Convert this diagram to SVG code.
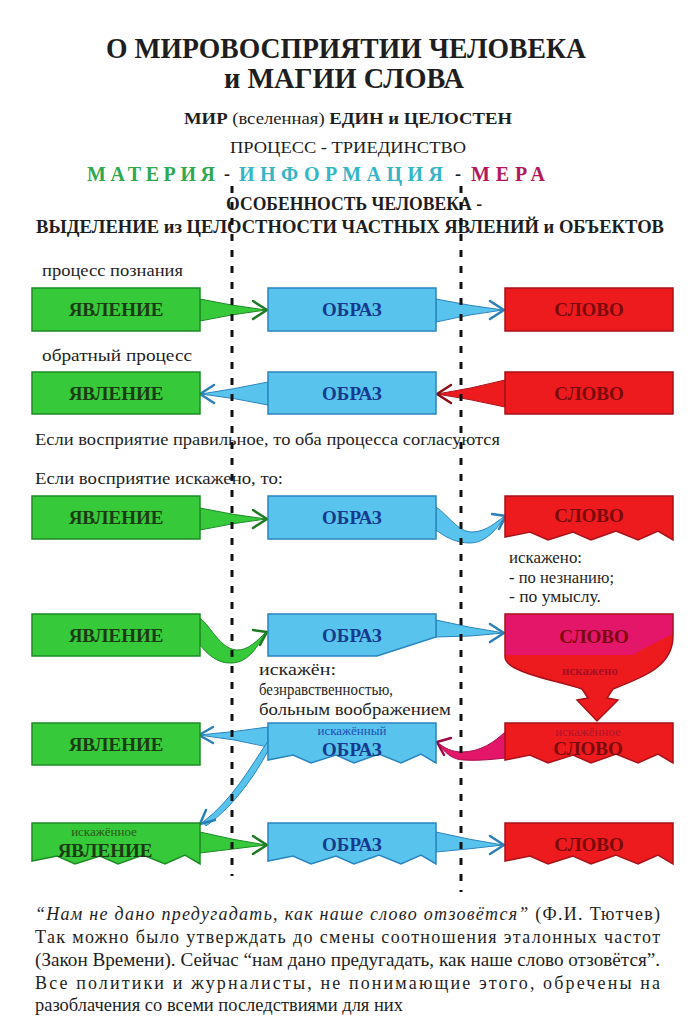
<svg xmlns="http://www.w3.org/2000/svg" width="693" height="1024" viewBox="0 0 693 1024">
<style>
text{font-family:"Liberation Serif","Times New Roman",serif;fill:#1e1e1e}
.t{font-weight:bold;font-size:29px}
.h{font-weight:bold;font-size:18px}
.lb{font-size:17px}
.p{font-size:18px}
.g{fill:#36c93a;stroke:#1e8a26;stroke-width:1.5}
.b{fill:#58c4ee;stroke:#2a84bd;stroke-width:1.5}
.r{fill:#ee1b1e;stroke:#a8121a;stroke-width:1.5}
.m{fill:#e3166a}
.bt{font-weight:bold;font-size:19px;text-anchor:middle}
.gt{fill:#1c3a14}
.blt{fill:#173a8c}
.rt{fill:#7a0a0c}
.st{font-size:13px;text-anchor:middle}
.wg{fill:#36c93a;stroke:#1e8a26;stroke-width:1}
.wb{fill:#58c4ee;stroke:#2a84bd;stroke-width:1}
.wr{fill:#ee1b1e;stroke:#a8121a;stroke-width:1}
.wm{fill:#e3166a;stroke:#a80d4c;stroke-width:1}
.cg{fill:none;stroke:#1e7a22;stroke-width:2.5;stroke-linecap:round;stroke-linejoin:round}
.cb{fill:none;stroke:#2a7fb8;stroke-width:2.5;stroke-linecap:round;stroke-linejoin:round}
.cr{fill:none;stroke:#8e0c14;stroke-width:2.5;stroke-linecap:round;stroke-linejoin:round}
.cm{fill:none;stroke:#9c0a48;stroke-width:2.5;stroke-linecap:round;stroke-linejoin:round}
.dash{stroke:#111;stroke-width:3;stroke-dasharray:7 9;fill:none}
</style>
<rect width="693" height="1024" fill="#ffffff"/>

<g id="header">
<text class="t" x="106" y="58" textLength="480" lengthAdjust="spacingAndGlyphs">О МИРОВОСПРИЯТИИ ЧЕЛОВЕКА</text>
<text class="t" x="224" y="88" textLength="240" lengthAdjust="spacingAndGlyphs">и МАГИИ СЛОВА</text>
<text x="184" y="124" font-size="17" font-weight="bold" textLength="328" lengthAdjust="spacingAndGlyphs">МИР <tspan font-weight="normal">(вселенная)</tspan> ЕДИН и ЦЕЛОСТЕН</text>
<text x="230" y="153" font-size="17" textLength="236" lengthAdjust="spacingAndGlyphs">ПРОЦЕСС - ТРИЕДИНСТВО</text>
<text x="87" y="181" font-size="20" font-weight="bold" textLength="128" style="fill:#2fa84f">МАТЕРИЯ</text>
<text x="224" y="180" font-size="18" font-weight="bold">-</text>
<text x="239" y="181" font-size="20" font-weight="bold" textLength="204" style="fill:#35b5c6">ИНФОРМАЦИЯ</text>
<text x="455" y="180" font-size="18" font-weight="bold">-</text>
<text x="471" y="181" font-size="20" font-weight="bold" textLength="74" style="fill:#b3175d">МЕРА</text>
<text class="h" x="226" y="210" textLength="256" lengthAdjust="spacingAndGlyphs">ОСОБЕННОСТЬ ЧЕЛОВЕКА -</text>
<text class="h" x="36" y="233" textLength="628" lengthAdjust="spacingAndGlyphs">ВЫДЕЛЕНИЕ из ЦЕЛОСТНОСТИ ЧАСТНЫХ ЯВЛЕНИЙ и ОБЪЕКТОВ</text>
</g>

<g id="labels">
<text class="lb" x="42" y="276" textLength="141" lengthAdjust="spacingAndGlyphs">процесс познания</text>
<text class="lb" x="42" y="361" textLength="150" lengthAdjust="spacingAndGlyphs">обратный процесс</text>
<text class="lb" x="35" y="445" textLength="465" lengthAdjust="spacingAndGlyphs">Если восприятие правильное, то оба процесса согласуются</text>
<text class="lb" x="35" y="484" textLength="248" lengthAdjust="spacingAndGlyphs">Если восприятие искажено, то:</text>
<text class="lb" x="509" y="563" textLength="73" lengthAdjust="spacingAndGlyphs">искажено:</text>
<text class="lb" x="509" y="583" textLength="105" lengthAdjust="spacingAndGlyphs">- по незнанию;</text>
<text class="lb" x="509" y="602" textLength="92" lengthAdjust="spacingAndGlyphs">- по умыслу.</text>
<text class="lb" x="259" y="675" textLength="77" lengthAdjust="spacingAndGlyphs">искажён:</text>
<text class="lb" x="259" y="695" textLength="134" lengthAdjust="spacingAndGlyphs">безнравственностью,</text>
<text class="lb" x="259" y="715" textLength="192" lengthAdjust="spacingAndGlyphs">больным воображением</text>
</g>

<g id="connectors">
<path class="wg" d="M200,299 Q233,306 266,310 Q233,314 200,321 Z"/>
<path class="cg" d="M253,301 L267,310 L253,319"/>
<path class="wb" d="M436,299 Q470,306 503,310 Q470,314 436,322 Z"/>
<path class="cb" d="M490,301 L504,310 L490,319"/>
<path class="wb" d="M268,382 Q235,389 201,394 Q235,398 268,405 Z"/>
<path class="cb" d="M214,385 L200,394 L214,403"/>
<path class="wr" d="M505,380 Q470,389 437,394 Q470,399 505,407 Z"/>
<path class="cr" d="M451,385 L437,394 L451,403"/>
<path class="wg" d="M200,508 Q233,515 266,519 Q233,523 200,530 Z"/>
<path class="cg" d="M253,510 L267,519 L253,528"/>
<path class="wb" d="M436,507 C448,515 458,532 472,532 C486,532 496,522 505,516 C498,528 486,543 470,543 C455,543 444,536 436,530 Z"/>
<path class="cb" d="M492,514 L506,516 L499,529"/>
<path class="wg" d="M200,618 C212,628 220,648 236,650 C248,651 258,640 266,632 C258,645 250,662 232,663 C216,664 206,652 200,645 Z"/>
<path class="cg" d="M253,630 L267,632 L260,645"/>
<path class="wb" d="M436,620 Q470,628 504,633 Q470,637 436,637 Z"/>
<path class="cb" d="M490,624 L504,633 L490,642"/>
<path class="wb" d="M268,727 Q235,732 199,735 Q235,739 268,747 Z"/>
<path class="cb" d="M213,727 L199,735 L213,743"/>
<path class="wm" d="M506,731 C495,742 480,752 462,752 C452,752 444,748 437,742 C444,752 452,760 464,760 C480,761 495,759 506,758 Z"/>
<path class="cm" d="M451,738 L437,742 L444,755"/>
<path class="wb" d="M268,741 C250,768 232,800 203,822 L206,826 C235,805 255,775 268,751 Z"/>
<path class="cb" d="M206,810 L200,824 L215,820"/>
<path class="wg" d="M200,832 Q233,840 266,845 Q233,849 200,853 Z"/>
<path class="cg" d="M253,836 L267,845 L253,854"/>
<path class="wb" d="M436,832 Q470,840 503,845 Q470,849 436,852 Z"/>
<path class="cb" d="M490,836 L504,845 L490,854"/>
</g>

<g id="row1">
<g id="r1-yavlenie"><rect class="g" x="32" y="288" width="168" height="43"/><text class="bt gt" x="116" y="316">ЯВЛЕНИЕ</text></g>
<g id="r1-obraz"><rect class="b" x="268" y="288" width="168" height="43"/><text class="bt blt" x="352" y="316">ОБРАЗ</text></g>
<g id="r1-slovo"><rect class="r" x="505" y="288" width="168" height="43"/><text class="bt rt" x="589" y="316">СЛОВО</text></g>
</g>

<g id="row2">
<g id="r2-yavlenie"><rect class="g" x="32" y="372" width="168" height="42"/><text class="bt gt" x="116" y="400">ЯВЛЕНИЕ</text></g>
<g id="r2-obraz"><rect class="b" x="268" y="372" width="168" height="42"/><text class="bt blt" x="352" y="400">ОБРАЗ</text></g>
<g id="r2-slovo"><rect class="r" x="505" y="372" width="168" height="42"/><text class="bt rt" x="589" y="400">СЛОВО</text></g>
</g>

<g id="row3">
<g id="r3-yavlenie"><rect class="g" x="32" y="496" width="168" height="43"/><text class="bt gt" x="116" y="524">ЯВЛЕНИЕ</text></g>
<g id="r3-obraz"><rect class="b" x="268" y="496" width="168" height="43"/><text class="bt blt" x="352" y="524">ОБРАЗ</text></g>
<g id="r3-slovo"><path class="r" d="M505,496 h168 v44 l-15,-9 l-20,9 l-22,-9 l-25,9 l-18,-8 l-25,8 l-18,-8 l-25,5 Z"/><text class="bt rt" x="589" y="522">СЛОВО</text></g>
</g>

<g id="row4">
<g id="r4-yavlenie"><rect class="g" x="32" y="614" width="168" height="42"/><text class="bt gt" x="116" y="642">ЯВЛЕНИЕ</text></g>
<g id="r4-obraz"><path class="b" d="M268,614 H436 V637 L377,656 H268 Z"/><text class="bt blt" x="352" y="642">ОБРАЗ</text></g>
<g id="r4-slovo">
<path d="M505,614 H673 V636 C673,668 640,678 613,689 L607,698 L618,700 L597,721 L577,700 L588,698 L582,689 C555,680 505,672 505,657 Z" fill="#ee1b1e"/>
<path class="m" d="M505,614 H673 V634 C660,640 645,648 633,655 H505 Z"/>
<path d="M505,614 H673 V636 C673,668 640,678 613,689 L607,698 L618,700 L597,721 L577,700 L588,698 L582,689 C555,680 505,672 505,657 Z" fill="none" stroke="#a8121a" stroke-width="1.5"/>
<text class="bt rt" x="594" y="643">СЛОВО</text>
<text class="st" x="590" y="675" style="fill:#a80e22;font-weight:bold">искажено</text>
</g>
</g>

<g id="row5">
<g id="r5-yavlenie"><rect class="g" x="32" y="723" width="168" height="42"/><text class="bt gt" x="116" y="751">ЯВЛЕНИЕ</text></g>
<g id="r5-obraz"><path class="b" d="M268,723 h168 v40 l-15,-9 l-20,9 l-22,-9 l-25,9 l-18,-8 l-25,8 l-18,-8 l-25,5 Z"/><text class="st" x="352" y="735" style="fill:#1f4fb0">искажённый</text><text class="bt blt" x="352" y="756">ОБРАЗ</text></g>
<g id="r5-slovo"><path class="r" d="M505,723 h168 v40 l-15,-9 l-20,9 l-22,-9 l-25,9 l-18,-8 l-25,8 l-18,-8 l-25,5 Z"/><text class="st" x="588" y="736" style="fill:#b0142a">искажённое</text><text class="bt rt" x="588" y="755">СЛОВО</text></g>
</g>

<g id="row6">
<g id="r6-yavlenie"><path class="g" d="M32,823 h168 v41 l-15,-9 l-20,9 l-22,-9 l-25,9 l-18,-8 l-25,8 l-18,-8 l-25,5 Z"/><text class="st" x="104" y="836" style="fill:#2a5a1a">искажённое</text><text class="bt gt" x="105" y="857">ЯВЛЕНИЕ</text></g>
<g id="r6-obraz"><path class="b" d="M268,823 h168 v41 l-15,-9 l-20,9 l-22,-9 l-25,9 l-18,-8 l-25,8 l-18,-8 l-25,5 Z"/><text class="bt blt" x="352" y="851">ОБРАЗ</text></g>
<g id="r6-slovo"><path class="r" d="M505,823 h168 v41 l-15,-9 l-20,9 l-22,-9 l-25,9 l-18,-8 l-25,8 l-18,-8 l-25,5 Z"/><text class="bt rt" x="589" y="851">СЛОВО</text></g>
</g>

<g id="dividers">
<path class="dash" d="M232,186 V876"/>
<path class="dash" d="M461,186 V892"/>
</g>

<g id="footer">
<text class="p" x="35" y="920" textLength="625"><tspan font-style="italic">“Нам не дано предугадать, как наше слово отзовётся”</tspan> (Ф.И. Тютчев)</text>
<text class="p" x="35" y="943" textLength="625">Так можно было утверждать до смены соотношения эталонных частот</text>
<text class="p" x="35" y="966" textLength="625" lengthAdjust="spacingAndGlyphs">(Закон Времени). Сейчас “нам дано предугадать, как наше слово отзовётся”.</text>
<text class="p" x="35" y="989" textLength="625">Все политики и журналисты, не понимающие этого, обречены на</text>
<text class="p" x="35" y="1011" textLength="368" lengthAdjust="spacingAndGlyphs">разоблачения со всеми последствиями для них</text>
</g>
</svg>
